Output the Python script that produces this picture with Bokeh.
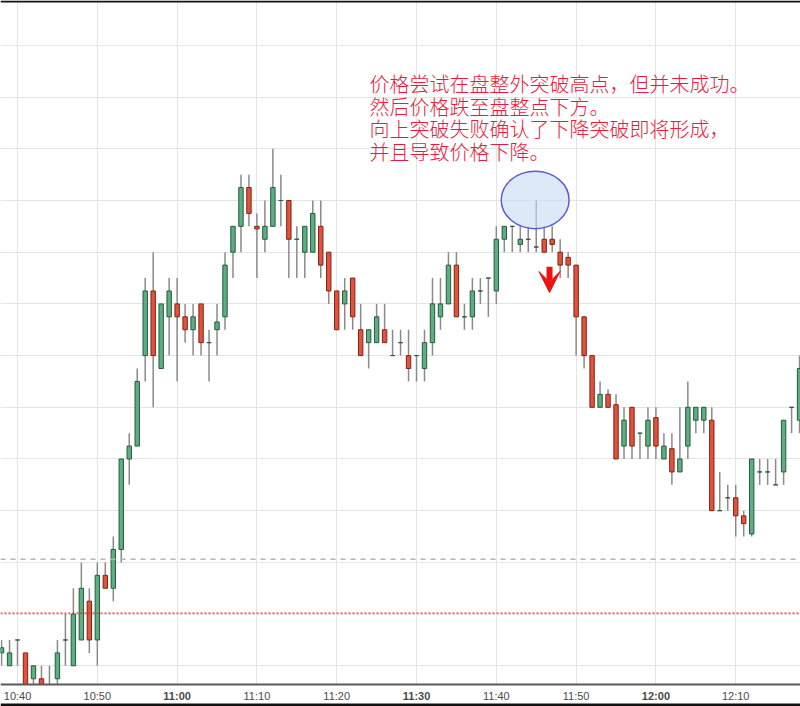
import pandas as pd
from bokeh.plotting import figure
from bokeh.models import (Range1d, FixedTicker, Span, Label, Arrow, VeeHead,
                          ColumnDataSource, BoxAnnotation)
from bokeh.embed import file_html
from bokeh.resources import INLINE

DAY = "2016-03-01 "

times = ["10:38", "10:39", "10:40", "10:41", "10:42", "10:43", "10:44", "10:45", "10:46", "10:47", "10:48",
         "10:49", "10:50", "10:51", "10:52", "10:53", "10:54", "10:55", "10:56", "10:57", "10:58",
         "10:59", "11:00", "11:01", "11:02", "11:03", "11:04", "11:05", "11:06", "11:07", "11:08",
         "11:09", "11:10", "11:11", "11:12", "11:13", "11:14", "11:15", "11:16", "11:17", "11:18",
         "11:19", "11:20", "11:21", "11:22", "11:23", "11:24", "11:25", "11:26", "11:27", "11:28",
         "11:29", "11:30", "11:31", "11:32", "11:33", "11:34", "11:35", "11:36", "11:37", "11:38",
         "11:39", "11:40", "11:41", "11:42", "11:43", "11:44", "11:45", "11:46", "11:47", "11:48",
         "11:49", "11:50", "11:51", "11:52", "11:53", "11:54", "11:55", "11:56", "11:57", "11:58",
         "11:59", "12:00", "12:01", "12:02", "12:03", "12:04", "12:05", "12:06", "12:07", "12:08",
         "12:09", "12:10", "12:11", "12:12", "12:13", "12:14", "12:15", "12:16", "12:17", "12:18"]

opens = [2071.25, 2071.00, 2071.50, 2071.25, 2070.75, 2070.75, 2070.55, 2070.75, 2071.50, 2071.00, 2071.50,
         2072.25, 2071.50, 2072.75, 2072.50, 2073.25, 2075.00, 2075.25, 2077.00, 2078.25, 2076.75,
         2077.75, 2078.00, 2077.75, 2077.50, 2078.00, 2077.25, 2077.50, 2077.75, 2079.00, 2079.50,
         2080.25, 2079.50, 2079.25, 2079.50, 2080.00, 2080.00, 2079.25, 2079.00, 2079.00, 2079.50,
         2079.00, 2078.25, 2078.00, 2078.50, 2077.50, 2077.25, 2077.25, 2077.50, 2077.00, 2077.25,
         2077.00, 2077.00, 2076.75, 2077.25, 2077.75, 2078.00, 2078.75, 2077.75, 2077.75, 2078.25,
         2078.50, 2078.25, 2079.25, 2079.50, 2079.15, 2079.25, 2079.10, 2079.25, 2079.25, 2079.00,
         2078.90, 2078.75, 2077.75, 2077.00, 2076.00, 2076.25, 2076.05, 2075.25, 2076.00, 2075.50,
         2075.25, 2075.80, 2075.00, 2075.20, 2074.75, 2075.25, 2075.75, 2075.75, 2075.75, 2074.00,
         2074.25, 2074.25, 2073.90, 2073.55, 2074.75, 2074.75, 2074.50, 2074.75, 2076.00, 2075.75]

highs = [2071.50, 2071.50, 2071.50, 2071.25, 2071.00, 2071.00, 2071.00, 2071.50, 2072.00, 2072.50, 2073.00,
         2072.50, 2073.00, 2073.00, 2073.50, 2075.00, 2075.50, 2076.75, 2078.50, 2079.00, 2078.00,
         2078.50, 2078.50, 2078.00, 2078.00, 2078.00, 2077.50, 2078.00, 2079.00, 2079.50, 2080.50,
         2080.50, 2079.75, 2080.00, 2081.00, 2080.50, 2080.00, 2079.50, 2079.50, 2080.00, 2080.00,
         2079.00, 2078.25, 2078.50, 2078.50, 2078.00, 2077.50, 2078.00, 2078.00, 2077.50, 2077.50,
         2077.50, 2077.00, 2077.50, 2078.50, 2078.50, 2079.00, 2079.00, 2078.00, 2078.50, 2078.50,
         2078.50, 2079.50, 2079.50, 2079.50, 2079.50, 2079.50, 2080.00, 2079.50, 2079.50, 2079.25,
         2079.00, 2078.75, 2077.75, 2077.00, 2076.50, 2076.35, 2076.25, 2076.00, 2076.00, 2075.50,
         2076.00, 2076.00, 2075.50, 2075.50, 2076.00, 2076.50, 2076.00, 2076.00, 2076.00, 2074.75,
         2074.50, 2074.50, 2074.00, 2075.00, 2075.00, 2075.00, 2075.00, 2075.75, 2076.00, 2077.00]

lows = [2071.00, 2071.00, 2071.00, 2070.50, 2070.50, 2070.50, 2070.50, 2070.50, 2071.00, 2071.00, 2071.50,
        2071.25, 2071.00, 2072.50, 2072.25, 2073.00, 2074.50, 2075.25, 2076.50, 2076.00, 2076.75,
        2077.00, 2076.50, 2077.25, 2077.00, 2077.00, 2076.50, 2077.00, 2077.50, 2078.50, 2079.00,
        2079.50, 2078.50, 2079.00, 2079.50, 2079.50, 2078.50, 2078.50, 2078.50, 2079.00, 2078.50,
        2078.00, 2077.50, 2077.50, 2077.50, 2077.00, 2076.75, 2077.25, 2077.25, 2077.00, 2077.00,
        2076.50, 2076.50, 2076.50, 2077.00, 2077.50, 2078.00, 2077.75, 2077.50, 2077.50, 2078.00,
        2077.75, 2078.00, 2079.00, 2079.00, 2079.00, 2079.00, 2079.00, 2079.00, 2079.00, 2078.50,
        2078.50, 2077.00, 2076.75, 2076.00, 2076.00, 2076.00, 2075.00, 2075.00, 2075.00, 2075.00,
        2075.00, 2075.00, 2075.00, 2074.50, 2074.75, 2075.00, 2075.50, 2075.50, 2074.00, 2074.00,
        2074.00, 2073.50, 2073.50, 2073.50, 2074.50, 2074.50, 2074.50, 2074.50, 2075.50, 2075.50]

closes = [2071.35, 2071.25, 2071.50, 2070.50, 2071.00, 2070.60, 2070.55, 2071.25, 2071.50, 2072.00, 2072.50,
          2071.50, 2072.75, 2072.50, 2073.25, 2075.00, 2075.25, 2076.50, 2078.25, 2077.00, 2078.00,
          2078.25, 2077.75, 2077.50, 2077.75, 2077.25, 2077.25, 2077.65, 2078.75, 2079.50, 2080.25,
          2079.75, 2079.45, 2079.50, 2080.25, 2080.00, 2079.25, 2079.25, 2079.50, 2079.75, 2078.75,
          2078.25, 2077.50, 2078.25, 2077.75, 2077.00, 2077.50, 2077.75, 2077.25, 2077.00, 2077.25,
          2076.75, 2077.00, 2077.25, 2078.00, 2078.00, 2078.75, 2077.75, 2077.75, 2078.25, 2078.25,
          2078.50, 2079.25, 2079.50, 2079.50, 2079.25, 2079.25, 2079.10, 2079.00, 2079.15, 2078.75,
          2078.75, 2077.75, 2077.00, 2076.00, 2076.25, 2076.00, 2075.00, 2075.75, 2075.25, 2075.50,
          2075.75, 2075.25, 2075.25, 2074.75, 2075.00, 2076.00, 2076.00, 2076.00, 2074.00, 2074.00,
          2074.25, 2073.90, 2073.75, 2075.00, 2074.75, 2074.75, 2074.50, 2075.75, 2076.00, 2076.75]

tick_labels = ["10:40", "10:50", "11:00", "11:10", "11:20", "11:30", "11:40", "11:50", "12:00", "12:10"]
bold_ticks = ["11:00", "11:30", "12:00"]
grid_levels = [2061, 2062, 2063, 2064, 2065, 2066, 2067, 2068, 2069, 2070, 2071, 2072,
               2073, 2074, 2075, 2076, 2077, 2078, 2079, 2080, 2081, 2082, 2083]

range_high_level = 2073.06   # grey dashed line
range_low_level = 2072.02    # red dotted line

note_lines = ["价格尝试在盘整外突破高点，但并未成功。",
              "然后价格跌至盘整点下方。",
              "向上突破失败确认了下降突破即将形成，",
              "并且导致价格下降。"]

circle_time, circle_price = "11:44:52", 2080.01
circle_minutes, circle_height = 8.5, 1.11
arrow_time, arrow_from, arrow_to = "11:46:40", 2078.72, 2078.22

view_start, view_end = "10:37:52", "12:18:07"
price_low, price_high = 2070.213, 2083.868
axis_level = 2070.638          # price at the time axis line
window_top_edge = 2083.83      # dark strip along the top of the screenshot
window_bottom_edge = 2070.27   # dark strip along the bottom


def ts(hm):
    return pd.Timestamp(DAY + hm)


def ms(hm):
    return ts(hm).value / 1e6


df = pd.DataFrame(dict(t=[ts(s) for s in times], o=opens, h=highs, l=lows, c=closes))
up = df.c >= df.o
df["top"] = df[["o", "c"]].max(axis=1)
df["bottom"] = df[["o", "c"]].min(axis=1)
df["fill"] = ["#5fae82" if u else "#e2533d" for u in up]
df["edge"] = ["#245c3c" if u else "#7f2414" for u in up]
src = ColumnDataSource(df)

p = figure(x_axis_type="datetime", frame_width=800, frame_height=706,
           x_range=Range1d(ms(view_start), ms(view_end)),
           y_range=Range1d(price_low, price_high),
           output_backend="svg", toolbar_location=None,
           min_border_left=0, min_border_right=0, min_border_top=0, min_border_bottom=0,
           background_fill_color="white", border_fill_color="white")
p.outline_line_color = None
p.xaxis.visible = False
p.yaxis.visible = False

tick_ms = [ms(t) for t in tick_labels]
p.xgrid.ticker = FixedTicker(ticks=tick_ms)
p.ygrid.ticker = FixedTicker(ticks=grid_levels)
p.xgrid.grid_line_color = "#e4e4e4"
p.ygrid.grid_line_color = "#e4e4e4"

p.add_layout(Span(location=range_high_level, dimension="width", line_color="#b4b4b4",
                  line_dash="5 5", line_width=1.5))
p.add_layout(Span(location=range_low_level, dimension="width", line_color="#dd2b2b",
                  line_dash="2 2", line_width=1.2))

bar_w = 0.55 * 60000
p.segment(x0="t", y0="h", x1="t", y1="l", source=src, line_color="#8a8a8a", line_width=1.5)
p.vbar(x="t", width=bar_w, top="top", bottom="bottom", source=src,
       fill_color="fill", line_color="edge", line_width=1)

p.ellipse(x=[ms(circle_time)], y=[circle_price], width=[circle_minutes * 60000],
          height=[circle_height], fill_color="#c8dbf2", fill_alpha=0.6,
          line_color="#5b5bd6", line_width=1.5)

red = "#ee1111"
p.add_layout(Arrow(end=VeeHead(size=21, fill_color=red, line_color=red, line_width=1),
                   x_start=ms(arrow_time), y_start=arrow_from,
                   x_end=ms(arrow_time), y_end=arrow_to,
                   line_color=red, line_width=6))

# time axis strip: white band under the axis line, axis line, tick labels
p.add_layout(BoxAnnotation(top=axis_level, fill_color="white", fill_alpha=1.0,
                           line_color=None))
p.add_layout(Span(location=axis_level, dimension="width", line_color="#5a5a5a",
                  line_width=2))
p.add_layout(BoxAnnotation(top=window_bottom_edge, fill_color="#111111", fill_alpha=1.0,
                           line_color=None))
p.add_layout(BoxAnnotation(bottom=window_top_edge, fill_color="#111111", fill_alpha=1.0,
                           line_color=None))

for lbl, tm in zip(tick_labels, tick_ms):
    p.add_layout(Label(x=tm, y=17, x_units="data", y_units="screen", text=lbl,
                       text_align="center", text_baseline="top",
                       text_font="Liberation Sans", text_font_size="11px",
                       text_color="#4a4a4a",
                       text_font_style="bold" if lbl in bold_ticks else "normal"))

line_y = [638, 615, 592.5, 570]
for txt, yy in zip(note_lines, line_y):
    p.add_layout(Label(x=369, y=yy, x_units="screen", y_units="screen", text=txt,
                       text_align="left", text_baseline="top",
                       text_font="Noto Sans CJK SC Light, Noto Sans CJK SC",
                       text_font_size="20px", text_color="#ea1a3c"))

open("out.html", "w").write(file_html(p, INLINE))
